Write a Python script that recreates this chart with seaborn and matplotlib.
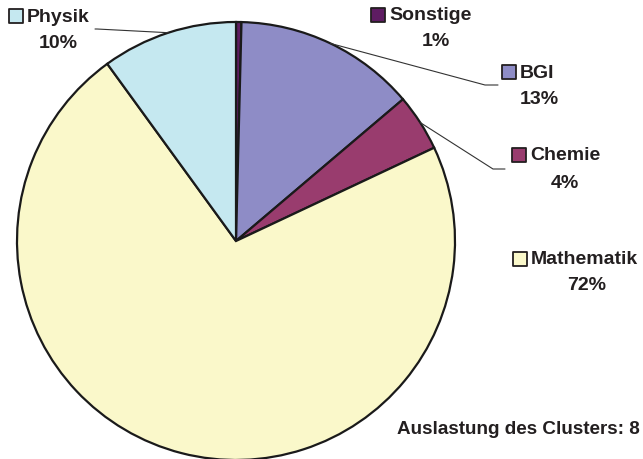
import numpy as np
import matplotlib
matplotlib.use("Agg")
import matplotlib.pyplot as plt
import seaborn as sns

# ---------------- DATA ----------------
faecher = ["Sonstige", "BGI", "Chemie", "Mathematik", "Physik"]
anteile = [0.4, 13.4, 4.2, 72.0, 10.0]
prozent_labels = ["1%", "13%", "4%", "72%", "10%"]
farben = ["#5e1c62", "#8e8cc6", "#993c6e", "#faf8ca", "#c5e8f0"]
fusszeile = "Auslastung des Clusters: 8"

# ---------------- LAYOUT (pixel coords, y from top) ----------------
W, H = 643, 460
cx, cy, r = 236, 242, 219
# name row: square left x, row center y ; percent center x, y
label_pos = {
    "Physik": (10, 17, 58, 43),
    "Sonstige": (372, 16, 436, 41),
    "BGI": (503, 73, 539, 99),
    "Chemie": (513, 156, 565, 183),
    "Mathematik": (514, 260, 587, 285),
}
# leader end points
leader_end = {
    "Physik": [(97, 30), (95, 30)],
    "BGI": [(485, 86), (498, 86)],
    "Chemie": [(493, 170), (505, 170)],
}

sns.set_theme(style="white")
plt.rcParams["font.family"] = ["Liberation Sans", "DejaVu Sans"]
txt_col = "#231f20"

fig = plt.figure(figsize=(W / 100, H / 100), dpi=100)
ax = fig.add_axes([0, 0, 1, 1])

def py(y):
    return H - y

wedges, _ = ax.pie(anteile, colors=sns.color_palette(farben), startangle=90,
                   counterclock=False, radius=r, center=(cx, py(cy)),
                   wedgeprops=dict(edgecolor="#1a1a1a", linewidth=1.6),
                   frame=True)
ax.set_xlim(0, W)
ax.set_ylim(0, H)
ax.set_aspect("equal")
ax.axis("off")

for name, pct, col, w in zip(faecher, prozent_labels, farben, wedges):
    sx, sy, pxc, pyc = label_pos[name]
    ax.scatter([sx + 6], [py(sy)], marker="s", s=90, color=col,
               edgecolors="#231f20", linewidths=1.3, zorder=5, clip_on=False)
    ax.text(sx + 17, py(sy), name, fontsize=14, fontweight="bold",
            color=txt_col, va="center", ha="left")
    ax.text(pxc, py(pyc), pct, fontsize=14, fontweight="bold",
            color=txt_col, va="center", ha="center")
    if name in leader_end:
        mid = np.deg2rad((w.theta1 + w.theta2) / 2)
        x0 = cx + r * np.cos(mid)
        y0 = py(cy) + r * np.sin(mid)
        pts = [(x0, y0)] + [(x, py(y)) for x, y in leader_end[name]]
        xs, ys = zip(*pts)
        ax.plot(xs, ys, color="#333333", linewidth=0.8, zorder=1)

# footer: in the reference it runs into the right edge; keep it just inside
ax.text(W - 3, py(430), fusszeile, fontsize=13.6, fontweight="bold",
        color=txt_col, va="center", ha="right")

fig.savefig("out.png", dpi=100, facecolor="white")
